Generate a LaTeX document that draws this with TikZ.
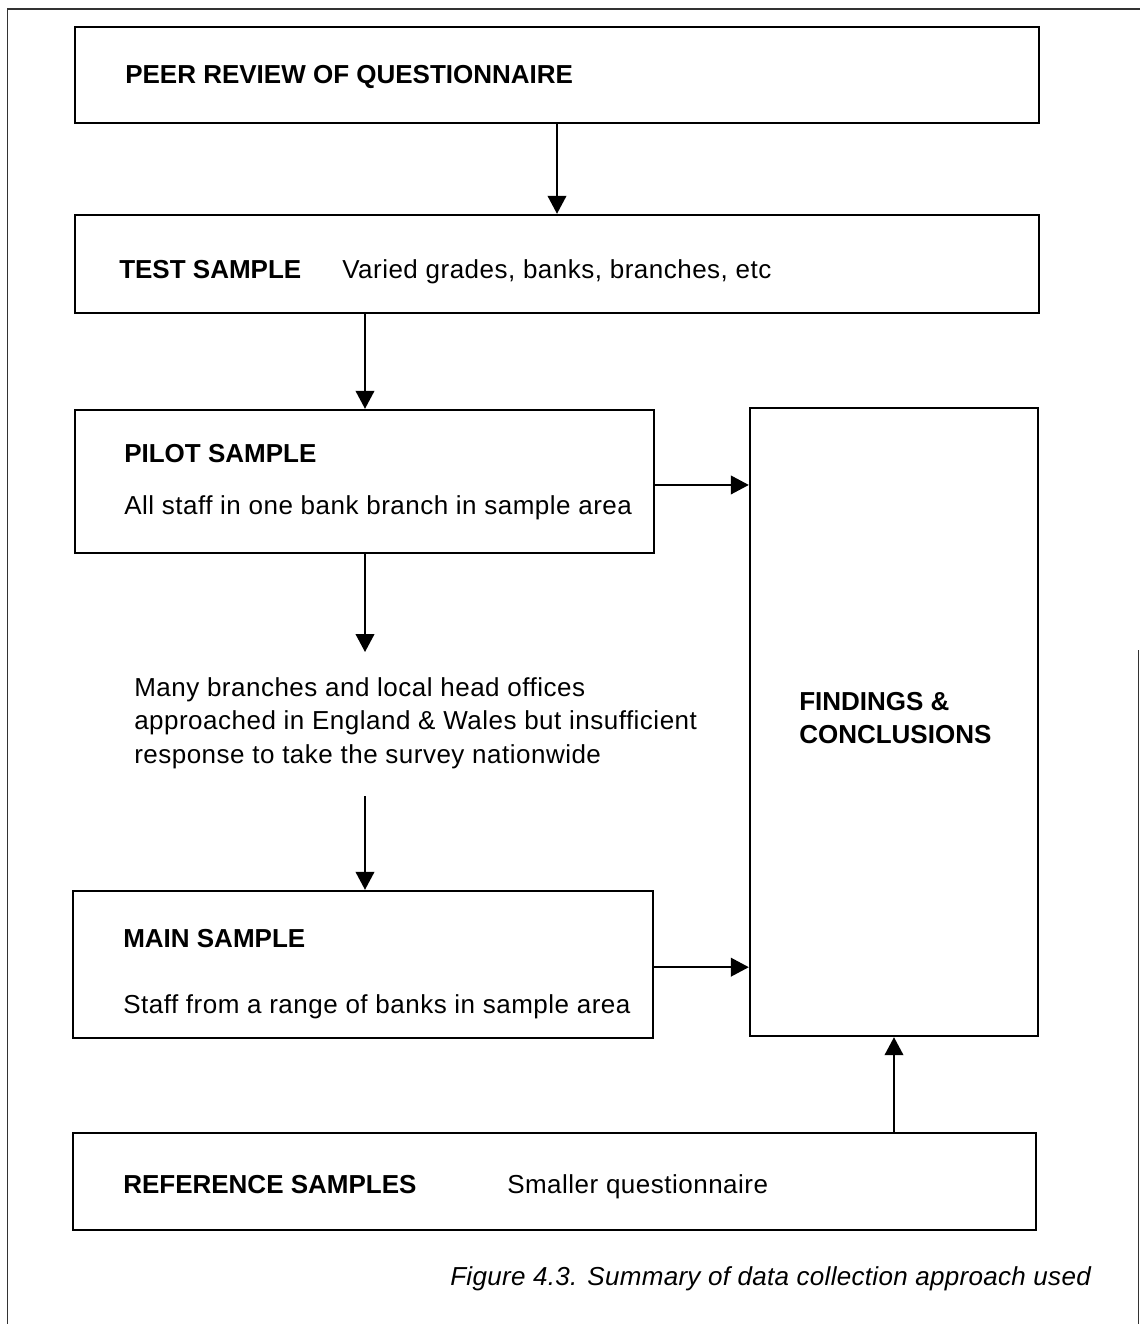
\documentclass[tikz,border=0pt]{standalone}
\usepackage{fontspec}
\setmainfont{Liberation Sans}
\newfontfamily\bodyfont[LetterSpace=1.9]{Liberation Sans}
\newfontfamily\capfont[LetterSpace=1.2]{Liberation Sans}
\usetikzlibrary{arrows.meta,fit}
\begin{document}
\begin{tikzpicture}[x=0.75pt,y=-0.75pt,
  box/.style={draw,line width=1.8pt,inner sep=0pt},
  arr/.style={line width=1.4pt,-{Triangle[width=14pt,length=13.5pt]}},
  frame/.style={line width=1pt,draw=black!80},
  lbl/.style={anchor=base west,inner sep=0pt,font=\bodyfont\fontsize{19.5}{25}\selectfont},
  head/.style={anchor=base west,inner sep=0pt,font=\fontsize{19.5}{25}\selectfont\bfseries},
  para/.style={anchor=north west,inner sep=0pt,align=left,font=\bodyfont\fontsize{19.5}{25.1}\selectfont}]
\useasboundingbox (0,0) rectangle (1140,1324);
\fill[white] (0,0) rectangle (1140,1324);
% page frame
\draw[frame] (7.5,1324) -- (7.5,9) -- (1140,9);
\draw[frame] (1138.5,650) -- (1138.5,1324);

% boxes
\node[box,fit={(75,27) (1039,123)}] (peer) {};
\node[box,fit={(75,215) (1039,313)}] (test) {};
\node[box,fit={(75,410) (654,553)}] (pilot) {};
\node[box,fit={(750,408) (1038,1036)}] (find) {};
\node[box,fit={(73,891) (653,1038)}] (main) {};
\node[box,fit={(73,1133) (1036,1230)}] (ref) {};

% texts
\node[head] (tpeer) at (125,83) {PEER REVIEW OF QUESTIONNAIRE};
\node[head] (ttest) at (119,278) {TEST SAMPLE};
\node[lbl] (ttestd) at (342,278) {Varied grades, banks, branches, etc};
\node[head] (tpilot) at (124,462) {PILOT SAMPLE};
\node[lbl] (tpilotd) at (124,514) {All staff in one bank branch in sample area};
\node[para] (many) at (134,677) {Many branches and local head offices\\approached in England \& Wales but insufficient\\response to take the survey nationwide};
\node[head,align=left,anchor=north west,font=\fontsize{19.5}{24.8}\selectfont\bfseries] (tfind) at (799,692) {FINDINGS \&\\CONCLUSIONS};
\node[head] (tmain) at (123,947) {MAIN SAMPLE};
\node[lbl] (tmaind) at (123,1013) {Staff from a range of banks in sample area};
\node[head] (tref) at (123,1193) {REFERENCE SAMPLES};
\node[lbl] (trefd) at (507,1193) {Smaller questionnaire};
\node[anchor=base west,inner sep=0pt,font=\capfont\fontsize{19.5}{25}\selectfont\itshape] (cap) at (450,1285) {Figure 4.3. Summary of data collection approach used};

% connectors
\coordinate (m1) at (365,652);
\coordinate (m2) at (365,796);
\draw[arr] (peer.south) -- (test.north);
\draw[arr] (test.south -| m1) -- (pilot.north -| m1);
\draw[arr] (pilot.south -| m1) -- (m1);
\draw[arr] (m2) -- (main.north -| m2);
\draw[arr] ([yshift=-2.6pt]pilot.east) -- ([yshift=-2.6pt]pilot.east -| find.west);
\draw[arr] ([yshift=-2pt]main.east) -- ([yshift=-2pt]main.east -| find.west);
\draw[arr] (find.south |- ref.north) -- (find.south);
\end{tikzpicture}
\end{document}
